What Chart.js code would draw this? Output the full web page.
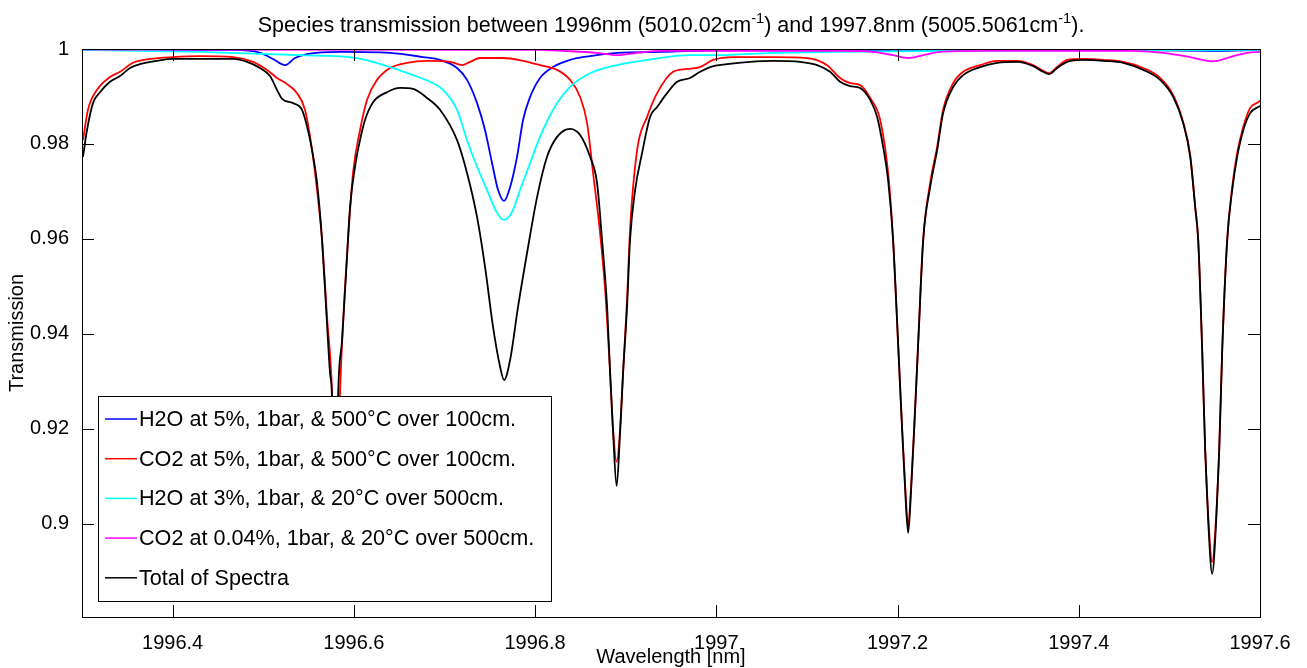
<!DOCTYPE html>
<html>
<head>
<meta charset="utf-8">
<script src="https://cdn.jsdelivr.net/npm/chart.js@4.4.1/dist/chart.umd.min.js"></script>
<style>
  html, body { margin: 0; padding: 0; background: #fff; }
  canvas { display: block; }
</style>
</head>
<body>
<canvas id="spectraChart" width="1307" height="668"></canvas>
<script>
// [wavelength nm, transmission]

const h2oHot = [
    [1996.3, 0.9998], [1996.4667, 0.9998], [1996.4965, 0.9992], [1996.5108, 0.9979], [1996.5241, 0.9966],
    [1996.5351, 0.9981], [1996.5483, 0.9989], [1996.5848, 0.9994], [1996.64, 0.9992], [1996.6764, 0.9983],
    [1996.6951, 0.9977], [1996.7139, 0.996], [1996.7249, 0.9935], [1996.736, 0.9886], [1996.7448, 0.9829],
    [1996.7525, 0.976], [1996.7592, 0.9703], [1996.7658, 0.968], [1996.7724, 0.9709], [1996.7801, 0.9773],
    [1996.7868, 0.9851], [1996.7945, 0.9899], [1996.8055, 0.9939], [1996.8199, 0.9962], [1996.8386, 0.9977],
    [1996.8607, 0.9985], [1996.8905, 0.9992], [1996.9413, 0.9994], [1996.9711, 0.9996], [1997.0925, 0.9998],
    [1997.4236, 0.9998], [1997.5472, 0.9996], [1997.6, 0.9998]
];

const co2Hot = [
    [1996.3011, 0.9808], [1996.3066, 0.9872], [1996.3166, 0.9914], [1996.3309, 0.9941], [1996.3419, 0.9952],
    [1996.3563, 0.9971], [1996.3751, 0.9979], [1996.4004, 0.9983], [1996.4302, 0.9985], [1996.4667, 0.9983],
    [1996.4887, 0.9973], [1996.5042, 0.9956], [1996.5152, 0.9939], [1996.5263, 0.9926], [1996.5373, 0.9907],
    [1996.5461, 0.9872], [1996.5539, 0.9787], [1996.5594, 0.9703], [1996.5649, 0.9598], [1996.5704, 0.9436],
    [1996.5759, 0.9276], [1996.5804, 0.8924], [1996.5848, 0.9276], [1996.5881, 0.9423], [1996.5936, 0.9598],
    [1996.5991, 0.9739], [1996.6068, 0.9829], [1996.6146, 0.9893], [1996.6256, 0.9935], [1996.64, 0.996],
    [1996.6587, 0.9971], [1996.6808, 0.9975], [1996.7062, 0.9973], [1996.7194, 0.9966], [1996.7283, 0.9973],
    [1996.7393, 0.9981], [1996.7647, 0.9981], [1996.7868, 0.9975], [1996.8055, 0.9966], [1996.8243, 0.9956],
    [1996.8386, 0.9935], [1996.8497, 0.9899], [1996.8574, 0.9844], [1996.864, 0.9739], [1996.8717, 0.9613],
    [1996.8773, 0.9493], [1996.8828, 0.9318], [1996.8861, 0.9198], [1996.89, 0.9131], [1996.8938, 0.9198],
    [1996.8971, 0.9318], [1996.9015, 0.9472], [1996.9048, 0.9619], [1996.9126, 0.9787], [1996.9236, 0.9857],
    [1996.9347, 0.9907], [1996.9523, 0.9952], [1996.9678, 0.9958], [1996.9821, 0.9962], [1996.9965, 0.9977],
    [1997.0185, 0.9983], [1997.0627, 0.9983], [1997.1002, 0.9981], [1997.1223, 0.9966], [1997.1366, 0.9939],
    [1997.1477, 0.9928], [1997.1587, 0.9924], [1997.1698, 0.9897], [1997.1808, 0.9851], [1997.1896, 0.9739],
    [1997.1951, 0.9598], [1997.2007, 0.9377], [1997.2051, 0.9198], [1997.2084, 0.9082], [1997.2117, 0.8994],
    [1997.215, 0.9082], [1997.2183, 0.9198], [1997.2227, 0.9377], [1997.2283, 0.9598], [1997.236, 0.9718],
    [1997.2437, 0.9794], [1997.2503, 0.9872], [1997.2614, 0.9928], [1997.2724, 0.9952], [1997.2911, 0.9966],
    [1997.3099, 0.9975], [1997.332, 0.9975], [1997.3497, 0.9966], [1997.3607, 0.9954], [1997.3673, 0.9949],
    [1997.3761, 0.9962], [1997.3872, 0.9977], [1997.4049, 0.9979], [1997.4269, 0.9977], [1997.449, 0.9973],
    [1997.4711, 0.996], [1997.4898, 0.9939], [1997.5042, 0.9903], [1997.5152, 0.9846], [1997.523, 0.9777],
    [1997.5285, 0.9667], [1997.5318, 0.9598], [1997.5362, 0.9366], [1997.5395, 0.9156], [1997.5428, 0.9019],
    [1997.5472, 0.892], [1997.5517, 0.9019], [1997.555, 0.9156], [1997.5583, 0.9366], [1997.5638, 0.9598],
    [1997.5693, 0.9709], [1997.5748, 0.9781], [1997.5815, 0.9836], [1997.5892, 0.9876], [1997.598, 0.9888],
    [1997.6, 0.9891]
];

const h2oAmbient = [
    [1996.3, 0.9998], [1996.4302, 0.9994], [1996.5406, 0.9987], [1996.6035, 0.9981], [1996.64, 0.9962],
    [1996.6653, 0.9945], [1996.6841, 0.9931], [1996.6985, 0.9914], [1996.7139, 0.9872], [1996.7249, 0.9808],
    [1996.736, 0.9752], [1996.747, 0.9703], [1996.758, 0.9655], [1996.7658, 0.964], [1996.7746, 0.9657],
    [1996.7834, 0.9703], [1996.7945, 0.976], [1996.8055, 0.9815], [1996.8199, 0.9872], [1996.8386, 0.992],
    [1996.8607, 0.9949], [1996.8905, 0.9966], [1996.9236, 0.9977], [1996.9711, 0.9987], [1997.0009, 0.9987],
    [1997.0627, 0.9992], [1997.1366, 0.9994], [1997.258, 0.9996], [1997.6, 0.9998]
];

const co2Ambient = [
    [1996.3, 0.9999], [1996.8055, 0.9998], [1996.8309, 0.9996], [1996.8684, 0.9992], [1996.8905, 0.9987],
    [1996.9126, 0.9992], [1996.9413, 0.9996], [1997.1366, 0.9996], [1997.1731, 0.9994], [1997.1951, 0.9987],
    [1997.2117, 0.9981], [1997.2283, 0.9987], [1997.247, 0.9994], [1997.2945, 0.9996], [1997.4567, 0.9996],
    [1997.4932, 0.9992], [1997.523, 0.9983], [1997.5417, 0.9975], [1997.5472, 0.9974], [1997.5528, 0.9975],
    [1997.5671, 0.9983], [1997.5859, 0.9992], [1997.6, 0.9994]
];

const totalSpectra = [
    [1996.3011, 0.9773], [1996.3055, 0.9829], [1996.3121, 0.9886], [1996.3199, 0.9909], [1996.3309, 0.9931],
    [1996.3419, 0.9943], [1996.353, 0.996], [1996.364, 0.9968], [1996.3828, 0.9975], [1996.4004, 0.9979],
    [1996.4302, 0.9979], [1996.4667, 0.9979], [1996.4821, 0.9973], [1996.4965, 0.996], [1996.5075, 0.9943],
    [1996.5152, 0.9914], [1996.5208, 0.9895], [1996.5329, 0.9886], [1996.5428, 0.9872], [1996.5494, 0.9829],
    [1996.5539, 0.9787], [1996.5594, 0.9718], [1996.5649, 0.9598], [1996.5693, 0.9457], [1996.5737, 0.9318],
    [1996.5759, 0.9267], [1996.5792, 0.8861], [1996.5826, 0.9267], [1996.587, 0.9387], [1996.5914, 0.9528],
    [1996.5958, 0.9667], [1996.6013, 0.9752], [1996.6068, 0.9808], [1996.6124, 0.9851], [1996.6212, 0.9888],
    [1996.6366, 0.9909], [1996.651, 0.9918], [1996.6653, 0.9916], [1996.6808, 0.9897], [1996.6951, 0.9872],
    [1996.7139, 0.9808], [1996.7249, 0.9739], [1996.736, 0.9646], [1996.7448, 0.9541], [1996.7536, 0.9415],
    [1996.7614, 0.9331], [1996.7658, 0.9303], [1996.7724, 0.9345], [1996.7812, 0.9457], [1996.7912, 0.9571],
    [1996.8022, 0.9688], [1996.8132, 0.9773], [1996.8243, 0.9815], [1996.8386, 0.9832], [1996.8497, 0.9819],
    [1996.8607, 0.9773], [1996.8684, 0.9718], [1996.8739, 0.9598], [1996.8795, 0.9457], [1996.8828, 0.9318],
    [1996.8861, 0.9192], [1996.89, 0.908], [1996.8938, 0.9192], [1996.8971, 0.9318], [1996.9015, 0.9457],
    [1996.9048, 0.9598], [1996.9104, 0.9703], [1996.9181, 0.9781], [1996.9269, 0.9857], [1996.9347, 0.9878],
    [1996.9457, 0.9907], [1996.9567, 0.9931], [1996.9711, 0.9939], [1996.9821, 0.9952], [1996.9932, 0.9962],
    [1997.0119, 0.9968], [1997.0373, 0.9973], [1997.0627, 0.9975], [1997.0925, 0.9973], [1997.1113, 0.9966],
    [1997.1256, 0.9952], [1997.1366, 0.9931], [1997.1477, 0.9922], [1997.1587, 0.9918], [1997.1698, 0.9893],
    [1997.1775, 0.9857], [1997.1841, 0.9794], [1997.1896, 0.9724], [1997.1951, 0.9598], [1997.2007, 0.9377],
    [1997.2051, 0.9198], [1997.2084, 0.9072], [1997.2117, 0.8981], [1997.215, 0.9072], [1997.2183, 0.9198],
    [1997.2227, 0.9377], [1997.2283, 0.9598], [1997.236, 0.9709], [1997.2437, 0.9787], [1997.2503, 0.9865],
    [1997.2614, 0.992], [1997.2724, 0.9945], [1997.2911, 0.9962], [1997.3099, 0.9971], [1997.332, 0.9973],
    [1997.3497, 0.9964], [1997.3607, 0.9952], [1997.3673, 0.9947], [1997.3761, 0.996], [1997.3872, 0.9973],
    [1997.4049, 0.9977], [1997.4269, 0.9975], [1997.449, 0.9971], [1997.4711, 0.9956], [1997.4898, 0.9935],
    [1997.5042, 0.9899], [1997.5152, 0.9844], [1997.523, 0.9773], [1997.5285, 0.9667], [1997.5318, 0.9598],
    [1997.5362, 0.9366], [1997.5395, 0.9156], [1997.5428, 0.9008], [1997.5472, 0.8895], [1997.5517, 0.9008],
    [1997.555, 0.9156], [1997.5583, 0.9366], [1997.5638, 0.9598], [1997.5693, 0.9703], [1997.5748, 0.9773],
    [1997.5815, 0.9829], [1997.5892, 0.9865], [1997.598, 0.9878], [1997.6, 0.988]
];

const xTicks = [1996.4, 1996.6, 1996.8, 1997, 1997.2, 1997.4, 1997.6];
const yTicks = [0.9, 0.92, 0.94, 0.96, 0.98, 1];

const seriesLabels = [
    'H2O at 5%, 1bar, & 500°C over 100cm.',
    'CO2 at 5%, 1bar, & 500°C over 100cm.',
    'H2O at 3%, 1bar, & 20°C over 500cm.',
    'CO2 at 0.04%, 1bar, & 20°C over 500cm.',
    'Total of Spectra'
];
const seriesColors = ['#0000ff', '#ff0000', '#00ffff', '#ff00ff', '#000000'];
const seriesData = [h2oHot, co2Hot, h2oAmbient, co2Ambient, totalSpectra];

const FONT = "'Liberation Sans', Arial, sans-serif";
Chart.defaults.font.family = FONT;
Chart.defaults.color = '#000';

// title with superscript cm^-1
const supTitle = {
    id: 'supTitle',
    afterDraw(chart) {
        const ctx = chart.ctx;
        const parts = [
            ['Species transmission between 1996nm (5010.02cm', false],
            ['-1', true],
            [') and 1997.8nm (5005.5061cm', false],
            ['-1', true],
            [').', false]
        ];
        const base = 20;
        const measure = (size) => parts.reduce((w, [t, sup]) => {
            ctx.font = `${sup ? size * 0.68 : size}px ${FONT}`;
            return w + ctx.measureText(t).width;
        }, 0);
        const size = base * 827 / measure(base);
        const total = measure(size);
        const { left, right } = chart.chartArea;
        let x = (left + right) / 2 - total / 2;
        const y = 32;
        ctx.save();
        ctx.fillStyle = '#000';
        ctx.textBaseline = 'alphabetic';
        ctx.textAlign = 'left';
        parts.forEach(([t, sup]) => {
            ctx.font = `${sup ? size * 0.68 : size}px ${FONT}`;
            ctx.fillText(t, x, sup ? y - 9 : y);
            x += ctx.measureText(t).width;
        });
        ctx.restore();
    }
};

// legend box in the lower-left corner of the axes
const boxLegend = {
    id: 'boxLegend',
    afterDatasetsDraw(chart) {
        const ctx = chart.ctx;
        const { left, bottom } = chart.chartArea;
        const bx = left + 16, by = bottom - 221, bw = 453, bh = 205;
        ctx.save();
        ctx.fillStyle = '#fff';
        ctx.fillRect(bx, by, bw, bh);
        ctx.strokeStyle = '#000';
        ctx.lineWidth = 1;
        ctx.strokeRect(bx + 0.5, by + 0.5, bw, bh);
        ctx.font = `21.6px ${FONT}`;
        ctx.textBaseline = 'middle';
        ctx.textAlign = 'left';
        seriesLabels.forEach((label, i) => {
            const ry = by + 23 + i * 39.7;
            ctx.strokeStyle = seriesColors[i];
            ctx.lineWidth = 1.5;
            ctx.beginPath();
            ctx.moveTo(bx + 7, ry);
            ctx.lineTo(bx + 39, ry);
            ctx.stroke();
            ctx.fillStyle = '#000';
            ctx.fillText(label, bx + 41, ry + 1);
        });
        ctx.restore();
    }
};

// axes box with inward ticks on all four sides
const axesBox = {
    id: 'axesBox',
    afterDraw(chart) {
        const ctx = chart.ctx;
        const { left, right, top, bottom } = chart.chartArea;
        const xs = chart.scales.x, ys = chart.scales.y;
        const len = 12;
        ctx.save();
        ctx.strokeStyle = '#000';
        ctx.lineWidth = 1;
        ctx.strokeRect(left + 0.5, top + 0.5, right - left, bottom - top);
        ctx.beginPath();
        xTicks.forEach(v => {
            const px = Math.round(xs.getPixelForValue(v)) + 0.5;
            ctx.moveTo(px, bottom); ctx.lineTo(px, bottom - len);
            ctx.moveTo(px, top); ctx.lineTo(px, top + len);
        });
        yTicks.forEach(v => {
            const py = Math.round(ys.getPixelForValue(v)) + 0.5;
            ctx.moveTo(left, py); ctx.lineTo(left + len, py);
            ctx.moveTo(right, py); ctx.lineTo(right - len, py);
        });
        ctx.stroke();
        ctx.restore();
    }
};

const ctx = document.getElementById('spectraChart').getContext('2d');
const spectraChart = new Chart(ctx, {
    type: 'line',
    data: {
        datasets: seriesData.map((pts, i) => ({
            label: seriesLabels[i],
            data: pts.map(([x, y]) => ({ x, y })),
            borderColor: seriesColors[i],
            backgroundColor: seriesColors[i],
            borderWidth: 1.8,
            pointRadius: 0,
            fill: false,
            cubicInterpolationMode: 'monotone',
            order: 4 - i
        }))
    },
    options: {
        responsive: false,
        animation: false,
        devicePixelRatio: 1,
        layout: { padding: { top: 49, right: 47, left: 0, bottom: 0 } },
        plugins: {
            legend: { display: false },
            title: { display: false },
            tooltip: { enabled: false }
        },
        scales: {
            x: {
                type: 'linear',
                min: 1996.3,
                max: 1997.6,
                grid: { display: false },
                border: { display: false },
                afterBuildTicks: (s) => { s.ticks = xTicks.map(v => ({ value: v })); },
                afterFit: (s) => { s.height = 51; },
                ticks: {
                    color: '#000',
                    font: { size: 20 },
                    padding: 6,
                    maxRotation: 0,
                    autoSkip: false,
                    callback: (v) => String(v)
                },
                title: {
                    display: true,
                    text: 'Wavelength [nm]',
                    color: '#000',
                    font: { size: 20, lineHeight: 1.1 },
                    padding: { top: 0, bottom: 0 }
                }
            },
            y: {
                min: 0.8804,
                max: 1,
                grid: { display: false },
                border: { display: false },
                afterBuildTicks: (s) => { s.ticks = yTicks.map(v => ({ value: v })); },
                afterFit: (s) => { s.width = 82; },
                ticks: {
                    color: '#000',
                    font: { size: 20 },
                    padding: 5,
                    callback: (v) => String(v)
                },
                title: {
                    display: true,
                    text: 'Transmission',
                    color: '#000',
                    font: { size: 20, lineHeight: 1.1 },
                    padding: { top: 6, bottom: 0 }
                }
            }
        }
    },
    plugins: [supTitle, boxLegend, axesBox]
});
</script>
</body>
</html>
